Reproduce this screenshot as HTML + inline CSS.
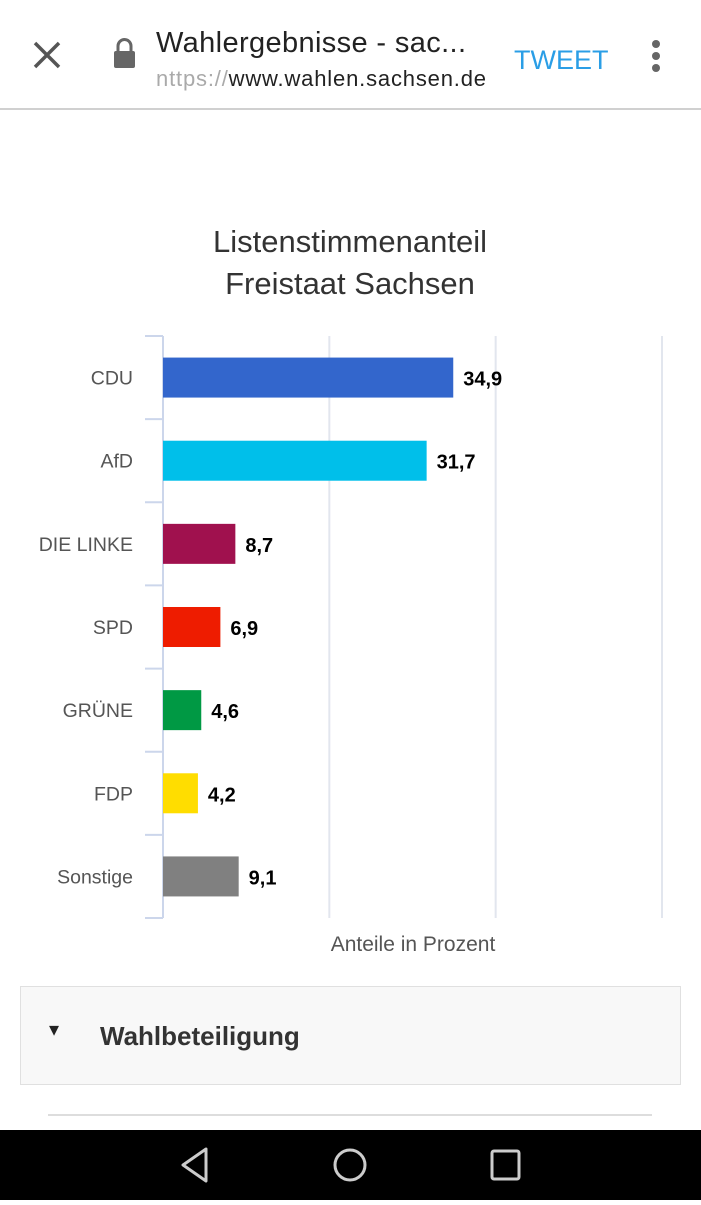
<!DOCTYPE html>
<html><head><meta charset="utf-8">
<style>
html,body{margin:0;padding:0;width:701px;height:1200px;overflow:hidden;background:#fff;font-family:"Liberation Sans",sans-serif;}
.top{position:absolute;left:0;top:0;width:701px;height:108px;background:#fff;border-bottom:2px solid #d0d0d0;}
.nav{position:absolute;left:0;top:1130px;width:701px;height:70px;background:#000;}
</style></head><body>
<div class="top">
  <svg width="701" height="108" style="position:absolute;left:0;top:0">
    <g><path d="M35 43 L59 67 M59 43 L35 67" stroke="#555" stroke-width="3.5"/></g>
    <g><rect x="114" y="51" width="21" height="17" rx="2" fill="#666"/><path d="M118 51 v-5 a6.5 6.5 0 0 1 13 0 v5" stroke="#666" stroke-width="3" fill="none"/></g>
    <text x="156" y="52" font-size="29" fill="#222" textLength="310">Wahlergebnisse - sac...</text>
    <text x="156" y="86" font-size="22" fill="#222" textLength="330"><tspan fill="#aaa">nttps://</tspan>www.wahlen.sachsen.de</text>
    <text x="514" y="69" font-size="27" fill="#2a9ee6">TWEET</text>
    <g fill="#666"><circle cx="656" cy="44" r="4"/><circle cx="656" cy="56" r="4"/><circle cx="656" cy="68" r="4"/></g>
  </svg>
</div>
<svg id="chart" width="701" height="1000" style="position:absolute;left:0;top:110px"></svg>
<div style="position:absolute;left:20px;top:986px;width:659px;height:97px;background:#f8f8f8;border:1.5px solid #e0e0e0;">
  <span style="position:absolute;left:28px;top:30px;font-size:20px;color:#222;">▾</span>
  <span style="position:absolute;left:79px;top:34px;font-size:26px;font-weight:bold;color:#333;">Wahlbeteiligung</span>
</div>
<div style="position:absolute;left:48px;top:1114px;width:604px;height:2px;background:#ddd;"></div>
<div class="nav">
  <svg width="701" height="70">
    <path d="M206 19 L183 35 L206 51 Z" stroke="#ccc" stroke-width="3" fill="none" stroke-linejoin="round"/>
    <ellipse cx="350" cy="35" rx="15" ry="15" stroke="#ccc" stroke-width="3" fill="none"/>
    <rect x="492" y="21" width="27" height="28" rx="2" stroke="#ccc" stroke-width="3" fill="none"/>
  </svg>
</div>
<script>
const categories=["CDU","AfD","DIE LINKE","SPD","GRÜNE","FDP","Sonstige"];
const values=[34.9,31.7,8.7,6.9,4.6,4.2,9.1];
const labels=["34,9","31,7","8,7","6,9","4,6","4,2","9,1"];
const colors=["#3366cc","#00bfea","#a0114e","#ee1c00","#009944","#ffdd00","#808080"];
const ticks=[0,20,40,60];
const svg=document.getElementById('chart');
const NS="http://www.w3.org/2000/svg";
const oy=-110;
const x0=163,x1=662,yTop=336+oy,yBot=918+oy,max=60;
const xs=v=>x0+v/max*(x1-x0);
const band=(yBot-yTop)/categories.length;
function mk(t,a){const e=document.createElementNS(NS,t);for(const k in a)e.setAttribute(k,a[k]);svg.appendChild(e);return e;}
let t=mk('text',{x:350,y:252+oy,'text-anchor':'middle','font-size':31,fill:'#333'});t.textContent="Listenstimmenanteil";


t=mk('text',{x:350,y:294+oy,'text-anchor':'middle','font-size':31,fill:'#333'});t.textContent="Freistaat Sachsen";


ticks.forEach(v=>{if(v===0)return;const g=mk('line',{x1:xs(v),x2:xs(v),y1:yTop,y2:yBot,stroke:'#e2e6ee','stroke-width':2});

});
let ax=mk('line',{x1:x0,x2:x0,y1:yTop,y2:yBot,stroke:'#ccd6eb','stroke-width':2});


for(let i=0;i<=categories.length;i++){const y=yTop+i*band;const l=mk('line',{x1:145,x2:x0,y1:y,y2:y,stroke:'#ccd6eb','stroke-width':2});

}
categories.forEach((c,i)=>{const cy=yTop+band*(i+0.5);
const lab=mk('text',{x:133,y:cy+7,'text-anchor':'end','font-size':19.5,fill:'#555'});lab.textContent=c;


const r=mk('rect',{x:x0,y:cy-20,width:xs(values[i])-x0,height:40,fill:colors[i]});


const v=mk('text',{x:xs(values[i])+10,y:cy+8,'font-size':20,'font-weight':'bold',fill:'#000'});v.textContent=labels[i];

});
t=mk('text',{x:413,y:951+oy,'text-anchor':'middle','font-size':21,fill:'#555'});t.textContent="Anteile in Prozent";


</script>
</body></html>
